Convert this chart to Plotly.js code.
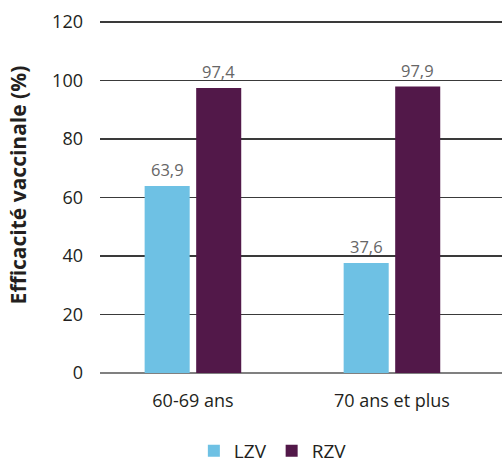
<!DOCTYPE html>
<html>
<head>
<meta charset="utf-8">
<script src="https://cdn.plot.ly/plotly-3.0.1.min.js"></script>
<style>
  html, body { margin: 0; padding: 0; background: #fff; }
  #chart { width: 502px; height: 463px; }
</style>
</head>
<body>
<div id="chart"></div>
<script>
// Vaccine efficacy by age group, two vaccines
const categories = ['60-69 ans', '70 ans et plus'];
const seriesNames = ['LZV', 'RZV'];
const lzvValues = [63.9, 37.6];
const rzvValues = [97.4, 97.9];
const yTicks = [0, 20, 40, 60, 80, 100, 120];

const FONT = '"Open Sans", "Noto Sans", sans-serif';
const TEXT = '#231f20';
const COLORS = ['#6EC1E4', '#521849'];

const traces = [lzvValues, rzvValues].map((vals, i) => ({
  type: 'bar',
  name: seriesNames[i],
  x: categories,
  y: vals,
  marker: { color: COLORS[i] },
  hoverinfo: 'skip'
}));

// value labels above each bar, offset sideways to the bar of each series
const slotPx = 51.5;
const fmt = v => v.toFixed(1).replace('.', ',');
const labels = [];
[lzvValues, rzvValues].forEach((vals, i) => {
  vals.forEach((v, j) => {
    labels.push({
      x: categories[j], y: v, xref: 'x', yref: 'y',
      text: fmt(v), showarrow: false,
      xshift: (i - 0.5) * slotPx, yanchor: 'bottom', yshift: 3,
      font: { family: FONT, size: 16.5, color: '#666666' }
    });
  });
});
labels.push({
  xref: 'paper', yref: 'paper', x: 0, y: 0.53, xanchor: 'center', yanchor: 'middle',
  xshift: -82, textangle: -90, showarrow: false,
  text: '<b>Efficacité vaccinale (%)</b>',
  font: { family: FONT, size: 21, color: TEXT }
});

const layout = {
  width: 502,
  height: 463,
  margin: { l: 100, r: 0, t: 19, b: 90, autoexpand: false },
  paper_bgcolor: '#ffffff',
  plot_bgcolor: '#ffffff',
  font: { family: FONT, size: 17, color: TEXT },
  barmode: 'group',
  bargap: 0.482,
  bargroupgap: 0.126,
  showlegend: true,
  legend: {
    orientation: 'h',
    xref: 'paper', yref: 'paper',
    x: 0.43, xanchor: 'center',
    y: -0.22, yanchor: 'middle',
    font: { family: FONT, size: 19, color: TEXT },
    itemwidth: 30
  },
  annotations: labels,
  xaxis: {
    type: 'category',
    range: [-0.467, 1.553],
    automargin: false,
    showgrid: false,
    showline: false,
    zeroline: false,
    ticks: '',
    tickfont: { family: FONT, size: 18, color: TEXT },
    ticklabelstandoff: 15,
    fixedrange: true
  },
  yaxis: {
    range: [0, 121],
    automargin: false,
    tickvals: yTicks,
    ticktext: yTicks.map(String),
    showgrid: true,
    gridcolor: '#3a3a3a',
    gridwidth: 1.2,
    zeroline: true,
    zerolinecolor: '#808080',
    zerolinewidth: 1.5,
    showline: false,
    ticks: '',
    ticklabelstandoff: 16,
    tickfont: { family: FONT, size: 18, color: TEXT },
    fixedrange: true
  }
};

Plotly.newPlot('chart', traces, layout, { displayModeBar: false, staticPlot: true });
</script>
</body>
</html>
